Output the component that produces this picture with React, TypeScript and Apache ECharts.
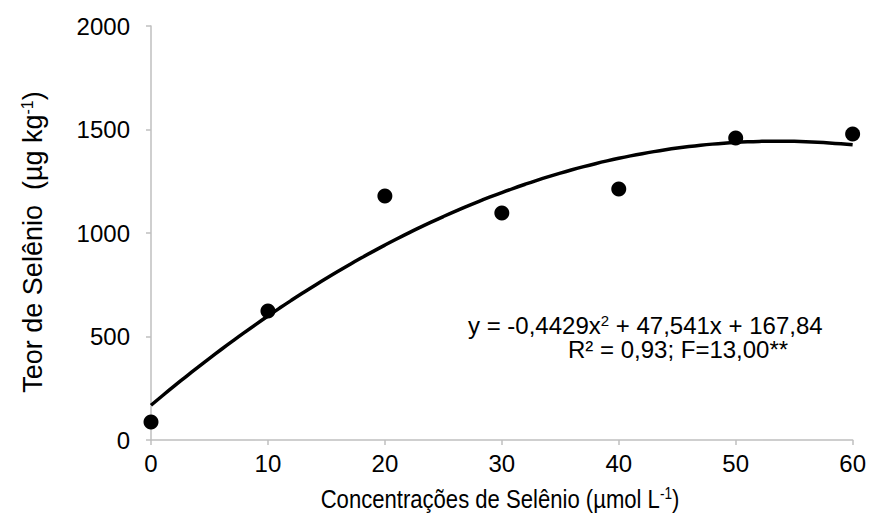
import React, { useEffect, useRef } from "react";
import * as echarts from "echarts";

const concentrations = [0, 10, 20, 30, 40, 50, 60];
const selenium = [87, 623, 1179, 1097, 1213, 1459, 1478];
// Trendline coefficients as printed on the chart: y = a x^2 + b x + c
const trendCoefficients = [-0.4429, 47.541, 167.84];
const xTicks = [0, 10, 20, 30, 40, 50, 60];
const yTicks = [0, 500, 1000, 1500, 2000];

const FONT = "Liberation Sans, Arial, sans-serif";

export default function App() {
  const ref = useRef<HTMLDivElement>(null);
  useEffect(() => {
    if (!ref.current) return;
    const chart = echarts.init(ref.current, null, { renderer: "svg" });
    const [a, b, c] = trendCoefficients;
    const trend: number[][] = [];
    for (let x = xTicks[0]; x <= xTicks[xTicks.length - 1]; x += 1) {
      trend.push([x, a * x * x + b * x + c]);
    }
    const axisLine = { show: true, lineStyle: { color: "#bfbfbf", width: 1.5 } };
    const axisTick = { show: true, length: 5, lineStyle: { color: "#bfbfbf", width: 1.5 } };
    chart.setOption({
      animation: false,
      backgroundColor: "#ffffff",
      textStyle: { fontFamily: FONT },
      grid: { left: 151, right: 16, top: 26, bottom: 79, containLabel: false },
      xAxis: {
        type: "value",
        min: xTicks[0],
        max: xTicks[xTicks.length - 1],
        interval: 10,
        axisLine,
        axisTick,
        splitLine: { show: false },
        axisLabel: { color: "#000", fontSize: 24, fontFamily: FONT, margin: 11, formatter: (v: number) => String(v) },
      },
      yAxis: {
        type: "value",
        min: yTicks[0],
        max: yTicks[yTicks.length - 1],
        interval: 500,
        axisLine,
        axisTick,
        splitLine: { show: false },
        axisLabel: { color: "#000", fontSize: 24, fontFamily: FONT, margin: 21, formatter: (v: number) => String(v) },
      },
      series: [
        {
          type: "line",
          data: trend,
          smooth: true,
          showSymbol: false,
          lineStyle: { color: "#000", width: 3.5 },
          z: 2,
        },
        {
          type: "scatter",
          data: concentrations.map((x, i) => [x, selenium[i]]),
          symbol: "circle",
          symbolSize: 15,
          itemStyle: { color: "#000", opacity: 1 },
          z: 3,
        },
      ],
      graphic: [
        {
          type: "text",
          x: 500,
          y: 499,
          scaleX: 0.85,
          style: {
            text: "{a|Concentrações de Selênio (µmol L}{sup|-1}{a|)}",
            align: "center",
            verticalAlign: "middle",
            rich: {
              a: { fontSize: 26, fill: "#000", fontFamily: FONT },
              sup: { fontSize: 16, fill: "#000", fontFamily: FONT, verticalAlign: "top" },
            },
          },
        },
        {
          type: "text",
          x: 33,
          y: 242,
          rotation: Math.PI / 2,
          style: {
            text: "{a|Teor de Selênio  (µg kg}{sup|-1}{a|)}",
            align: "center",
            verticalAlign: "middle",
            rich: {
              a: { fontSize: 27, fill: "#000", fontFamily: FONT },
              sup: { fontSize: 16, fill: "#000", fontFamily: FONT, verticalAlign: "top" },
            },
          },
        },
        {
          type: "text",
          x: 468,
          y: 325,
          style: {
            text: "{a|y = -0,4429x}{sup|2}{a| + 47,541x + 167,84}",
            align: "left",
            verticalAlign: "middle",
            rich: {
              a: { fontSize: 24, lineHeight: 24, fill: "#000", fontFamily: FONT },
              sup: { fontSize: 15, lineHeight: 24, fill: "#000", fontFamily: FONT, verticalAlign: "top" },
            },
          },
        },
        {
          type: "text",
          x: 568,
          y: 349,
          style: {
            text: "R² = 0,93; F=13,00**",
            align: "left",
            verticalAlign: "middle",
            fontSize: 24,
            lineHeight: 24,
            fill: "#000",
            fontFamily: FONT,
          },
        },
      ],
    });
    return () => chart.dispose();
  }, []);
  return <div ref={ref} style={{ position: "absolute", left: 0, top: 0, width: 869, height: 519 }} />;
}
